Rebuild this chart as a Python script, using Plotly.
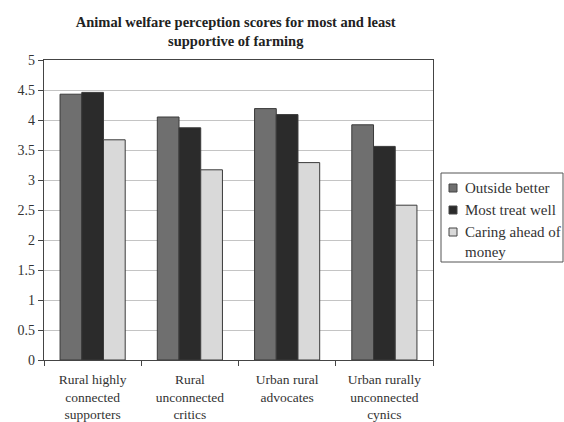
import plotly.graph_objects as go

categories = ["Rural highly<br>connected<br>supporters", "Rural<br>unconnected<br>critics",
              "Urban rural<br>advocates", "Urban rurally<br>unconnected<br>cynics"]
outside_better = [4.43, 4.05, 4.19, 3.92]
most_treat_well = [4.46, 3.87, 4.09, 3.56]
caring_ahead = [3.67, 3.17, 3.29, 2.58]
series_names = ["Outside better", "Most treat well", "Caring ahead of<br>money"]
colors = ["#6f6f6f", "#2b2b2b", "#d9d9d9"]

font = "Liberation Serif, Times New Roman, serif"
W, H = 564, 422
ML, MR, MT, MB = 44, 131, 60, 62
PW, PH = W - ML - MR, H - MT - MB


def px_to_paper(x, y):
    return (x - ML) / PW, (H - MB - y) / PH


fig = go.Figure()
for name, vals, col in zip(series_names, [outside_better, most_treat_well, caring_ahead], colors):
    fig.add_trace(go.Bar(x=categories, y=vals, name=name, marker_color=col,
                         marker_line_color="#3a3a3a", marker_line_width=1, showlegend=False))

# custom legend (box, swatches, labels) placed to match the original layout
bx0, by0 = px_to_paper(441, 173)
bx1, by1 = px_to_paper(563, 262)
fig.add_shape(type="rect", xref="paper", yref="paper", x0=bx0, x1=bx1, y0=by1, y1=by0,
              line=dict(color="#555555", width=1), fillcolor="white")
item_y = [188, 210, 241.5]
swatch_y = [188, 210, 232]
for name, col, ty, sy in zip(series_names, colors, item_y, swatch_y):
    sx0, sy0 = px_to_paper(449, sy - 4)
    sx1, sy1 = px_to_paper(457, sy + 4)
    fig.add_shape(type="rect", xref="paper", yref="paper", x0=sx0, x1=sx1, y0=sy1, y1=sy0,
                  line=dict(color="#444444", width=1), fillcolor=col)
    tx, tyy = px_to_paper(463, ty)
    fig.add_annotation(xref="paper", yref="paper", x=tx, y=tyy, xanchor="left", yanchor="middle",
                       text=name, showarrow=False, align="left",
                       font=dict(family=font, size=15, color="#333333"))

fig.update_layout(
    width=W, height=H,
    margin=dict(l=ML, r=MR, t=MT, b=MB, autoexpand=False),
    paper_bgcolor="white", plot_bgcolor="white",
    barmode="group", bargap=0.33, bargroupgap=0,
    font=dict(family=font, size=14, color="#333333"),
    title=dict(text="<b>Animal welfare perception scores for most and least<br>supportive of farming</b>",
               x=0.418, xanchor="center", y=0.935, yanchor="top",
               font=dict(family=font, size=14.5, color="#222222")),
    showlegend=False,
)
fig.update_xaxes(showline=True, linecolor="#444444", linewidth=1.2, mirror=True,
                 ticks="outside", tickson="boundaries", ticklen=5, tickcolor="#444444",
                 ticklabelstandoff=7,
                 tickfont=dict(family=font, size=13.5, color="#333333"))
fig.update_yaxes(range=[0, 5], dtick=0.5, showgrid=True, gridcolor="#c4c4c4", gridwidth=1,
                 showline=True, linecolor="#444444", linewidth=1.2, mirror=True,
                 ticks="outside", ticklen=5, tickcolor="#444444", zeroline=False,
                 tickfont=dict(family=font, size=14, color="#333333"))

fig.write_html("out.html")
